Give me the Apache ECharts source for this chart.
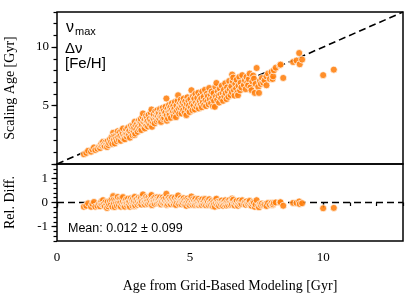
<!DOCTYPE html>
<html><head><meta charset="utf-8">
<script src="https://cdn.jsdelivr.net/npm/echarts@6/dist/echarts.min.js"></script>
<style>html,body{margin:0;padding:0;background:#fff}#c{width:415px;height:295px}</style>
</head><body><div id="c"></div>
<script>
// Age from grid-based modeling [Gyr]
const gridAge = [
  1.01,1.10,1.17,1.28,1.33,1.39,1.44,1.52,
  1.58,1.62,1.64,1.67,1.70,1.73,1.75,1.79,1.82,1.86,1.88,1.90,1.93,1.96,1.99,
  2.03,2.05,2.08,2.11,2.12,2.14,2.17,2.19,2.22,2.25,2.27,2.28,2.30,2.33,2.35,2.38,2.40,2.42,2.45,2.47,2.48,2.50,
  2.53,2.55,2.57,2.58,2.60,2.62,2.64,2.67,2.69,2.70,2.72,2.74,2.77,2.79,2.81,2.83,2.84,2.86,2.88,2.90,2.92,2.92,2.94,2.96,2.98,
  3.01,3.03,3.05,3.07,3.09,3.11,3.13,3.14,3.15,3.17,3.19,3.21,3.23,3.25,3.27,3.29,3.30,3.32,3.34,3.36,3.37,3.38,3.40,3.42,3.44,3.46,3.48,3.50,
  3.52,3.54,3.55,3.57,3.59,3.61,3.62,3.63,3.65,3.67,3.69,3.71,3.73,3.75,3.77,3.78,3.79,3.81,3.83,3.85,3.87,3.89,3.91,3.93,3.94,3.95,3.97,3.99,
  4.01,4.03,4.05,4.07,4.08,4.11,4.12,4.13,4.15,4.17,4.19,4.21,4.23,4.24,4.26,4.28,4.30,4.32,4.34,4.36,4.37,4.39,4.41,4.43,4.45,4.47,4.49,
  4.51,4.53,4.55,4.57,4.59,4.61,4.63,4.65,4.67,4.68,4.70,4.72,4.74,4.76,4.78,4.80,4.82,4.84,4.86,4.88,4.90,4.92,4.94,4.96,4.98,
  5.01,5.03,5.05,5.07,5.09,5.11,5.13,5.15,5.16,5.18,5.20,5.22,5.24,5.27,5.29,5.31,5.33,5.35,5.36,5.38,5.40,5.42,5.44,5.46,5.48,
  5.51,5.53,5.56,5.58,5.60,5.63,5.65,5.67,5.70,5.72,5.74,5.77,5.79,5.81,5.84,5.86,5.88,5.90,5.93,5.95,5.97,5.99,
  6.02,6.04,6.07,6.09,6.12,6.14,6.17,6.19,6.22,6.24,6.27,6.29,6.32,6.34,6.37,6.39,6.42,6.44,6.47,6.49,
  6.52,6.55,6.57,6.58,6.60,6.62,6.65,6.67,6.70,6.73,6.75,6.78,6.80,6.82,6.85,6.88,6.90,6.93,6.96,
  7.02,7.06,7.09,7.12,7.15,7.18,7.21,7.24,7.27,7.31,7.34,7.37,7.40,7.43,7.46,
  7.50,7.56,7.59,7.62,7.66,7.70,7.75,7.80,7.87,7.87,7.93,8.00,8.06,8.10,8.12,8.15,8.22,8.37,8.40,8.50,8.87,9.00,9.10,9.12,9.21,10.00,10.40
];
// Scaling age (nu_max, delta nu, [Fe/H]) [Gyr]
const scalingAge = [
  0.83,0.95,1.13,1.05,1.25,1.42,1.19,1.30,
  1.48,1.36,1.60,1.76,1.55,1.90,1.62,1.53,1.85,1.70,1.45,1.95,1.62,1.80,2.12,
  1.88,2.30,1.72,2.67,2.35,2.05,1.76,2.40,2.15,1.95,2.55,2.80,2.25,2.05,2.70,2.40,1.98,2.85,2.30,2.60,3.04,2.15,
  2.45,2.11,2.75,2.55,2.95,2.35,2.60,3.10,2.72,2.50,2.85,2.25,3.25,2.70,3.00,3.15,2.45,3.35,2.80,3.10,3.61,2.47,2.60,3.30,2.95,
  3.45,2.75,3.20,3.70,2.95,3.50,3.10,3.60,3.85,2.90,3.35,4.05,4.32,3.60,3.15,3.80,3.04,3.45,4.10,3.30,3.70,3.95,3.65,3.20,4.20,3.50,3.85,3.35,
  4.40,3.70,4.66,3.18,4.00,3.55,3.90,4.25,3.80,3.47,4.50,3.95,4.15,3.65,4.60,4.30,4.05,3.75,4.35,3.90,4.70,4.10,3.60,4.45,4.25,4.00,4.80,3.85,
  4.55,3.95,4.30,4.40,4.90,5.60,4.15,3.70,4.70,3.90,4.45,5.05,4.20,4.65,4.85,3.95,4.60,5.20,4.35,4.50,4.95,4.10,4.70,5.30,4.45,4.00,5.00,
  4.55,5.40,5.88,4.75,4.30,5.15,4.85,5.50,5.05,4.32,4.95,5.25,4.60,5.60,5.05,4.40,5.35,4.80,4.18,5.15,5.70,4.65,5.40,5.00,4.45,
  5.55,4.85,6.31,5.20,4.60,5.80,5.00,5.45,5.60,4.66,6.00,5.25,4.90,5.65,5.10,6.10,4.75,5.20,5.40,5.85,5.05,5.60,4.85,6.20,5.30,
  5.75,5.05,6.35,5.45,4.95,6.00,5.35,5.80,5.10,6.50,5.55,5.95,5.20,6.20,5.60,4.94,6.05,5.40,4.89,6.60,5.75,6.93,
  5.50,6.20,5.85,5.25,6.45,5.95,5.60,6.70,6.10,5.40,6.35,5.80,6.90,6.05,5.55,6.55,6.20,5.75,7.10,6.40,
  5.90,6.65,6.15,7.65,7.10,7.39,6.30,5.85,6.85,6.45,7.20,6.10,5.88,6.70,7.45,6.30,6.95,6.55,7.60,
  6.75,7.16,6.40,7.45,6.95,6.73,7.25,7.73,6.55,6.31,7.05,7.56,7.30,6.08,6.85,
  8.21,6.59,6.08,7.10,6.85,7.35,6.95,7.15,7.50,6.73,7.73,7.27,7.87,7.27,7.50,8.01,8.24,8.44,8.50,7.36,8.72,8.85,9.49,8.53,8.93,7.60,8.07
];
const xTickLabels = [0, 5, 10];
const topYTickLabels = [5, 10];
const topYMajorTicks = [0, 5, 10];
const relYTickLabels = [-1, 0, 1];
const ageRange = [0, 13];
const relRange = [-1.6, 1.6];
const inputLabels = ['ν', 'max', 'Δν', '[Fe/H]'];
const meanText = 'Mean: 0.012 ± 0.099';
const xTitle = 'Age from Grid-Based Modeling [Gyr]';
const yTitleTop = 'Scaling Age [Gyr]';
const yTitleBottom = 'Rel. Diff.';

const pts = gridAge.map((x, i) => [x, scalingAge[i]]);
const rel = gridAge.map((x, i) => [x, (scalingAge[i] - x) / x]);

const serif = 'Liberation Serif';
const sans = 'Liberation Sans';
const ORANGE = '#ff7f0e';
const tickStyle = { color: '#000', width: 1.2 };

function minorAxis(extra) {
  return Object.assign({
    type: 'value', axisLine: { show: false }, splitLine: { show: false },
    axisTick: { show: true, length: 3.5, lineStyle: tickStyle },
    axisLabel: { show: false }
  }, extra);
}

const chart = echarts.init(document.getElementById('c'), null, { renderer: 'canvas' });
chart.setOption({
  animation: false,
  grid: [
    { left: 57, right: 12, top: 12, height: 152, show: true, borderColor: '#000', borderWidth: 1.5,
      backgroundColor: 'transparent', containLabel: false, outerBoundsMode: 'none' },
    { left: 57, right: 12, top: 164, height: 77, show: true, borderColor: '#000', borderWidth: 1.5,
      backgroundColor: 'transparent', containLabel: false, outerBoundsMode: 'none' }
  ],
  xAxis: [
    minorAxis({ gridIndex: 0, position: 'bottom', min: ageRange[0], max: ageRange[1], interval: 1, axisTick: { show: false } }),
    minorAxis({ gridIndex: 1, position: 'bottom', min: ageRange[0], max: ageRange[1], interval: 1,
      axisLabel: { show: true, customValues: xTickLabels, margin: 10, fontFamily: serif, fontSize: 13, color: '#000',
        formatter: v => xTickLabels.indexOf(v) >= 0 ? String(v) : '' },
      name: xTitle, nameLocation: 'middle', nameGap: 38,
      nameTextStyle: { fontFamily: serif, fontSize: 14, color: '#000' } }),
    minorAxis({ gridIndex: 1, position: 'bottom', min: ageRange[0], max: ageRange[1],
      axisTick: { show: true, customValues: xTickLabels, length: 5, lineStyle: tickStyle } })
  ],
  yAxis: [
    minorAxis({ gridIndex: 0, position: 'left', min: ageRange[0], max: ageRange[1], interval: 1,
      axisLabel: { show: true, customValues: topYTickLabels, margin: 8, fontFamily: serif, fontSize: 13, color: '#000',
        formatter: v => topYTickLabels.indexOf(v) >= 0 ? String(v) : '' },
      name: yTitleTop, nameLocation: 'middle', nameGap: 40,
      nameTextStyle: { fontFamily: serif, fontSize: 14, color: '#000' } }),
    minorAxis({ gridIndex: 0, position: 'left', min: ageRange[0], max: ageRange[1],
      axisTick: { show: true, customValues: topYMajorTicks, length: 5.5, lineStyle: tickStyle } }),
    minorAxis({ gridIndex: 1, position: 'left', min: relRange[0], max: relRange[1], interval: 0.2,
      axisLabel: { show: true, customValues: relYTickLabels, margin: 9, fontFamily: serif, fontSize: 13, color: '#000',
        formatter: v => relYTickLabels.indexOf(Math.round(v * 10) / 10) >= 0 ? String(Math.round(v)) : '' },
      name: yTitleBottom, nameLocation: 'middle', nameGap: 40,
      nameTextStyle: { fontFamily: serif, fontSize: 14, color: '#000' } }),
    minorAxis({ gridIndex: 1, position: 'left', min: relRange[0], max: relRange[1],
      axisTick: { show: true, customValues: relYTickLabels, length: 5.5, lineStyle: tickStyle } })
  ],
  series: [
    { type: 'line', xAxisIndex: 0, yAxisIndex: 0, data: [[ageRange[0], ageRange[0]], [ageRange[1], ageRange[1]]],
      symbol: 'none', z: 1, lineStyle: { color: '#000', width: 1.6, type: [7, 4] }, silent: true },
    { type: 'scatter', xAxisIndex: 0, yAxisIndex: 0, data: pts, symbolSize: 7, z: 2,
      itemStyle: { color: ORANGE, borderColor: '#fff', borderWidth: 0.8, opacity: 0.88 } },
    { type: 'line', xAxisIndex: 1, yAxisIndex: 2, data: [[ageRange[0], 0], [ageRange[1], 0]],
      symbol: 'none', z: 1, lineStyle: { color: '#000', width: 1.6, type: [7, 4] }, silent: true },
    { type: 'scatter', xAxisIndex: 1, yAxisIndex: 2, data: rel, symbolSize: 7, z: 2,
      itemStyle: { color: ORANGE, borderColor: '#fff', borderWidth: 0.8, opacity: 0.88 } }
  ],
  graphic: [
    { type: 'text', left: 66, top: 20, style: { text: inputLabels[0], font: '16px ' + sans, fill: '#000' } },
    { type: 'text', left: 75, top: 26, style: { text: inputLabels[1], font: '11px ' + sans, fill: '#000' } },
    { type: 'text', left: 65, top: 41, style: { text: inputLabels[2], font: '15px ' + sans, fill: '#000' } },
    { type: 'text', left: 65, top: 56, style: { text: inputLabels[3], font: '15px ' + sans, fill: '#000' } },
    { type: 'text', left: 68, top: 222, style: { text: meanText, font: '12.5px ' + sans, fill: '#000' } }
  ]
});
</script></body></html>
